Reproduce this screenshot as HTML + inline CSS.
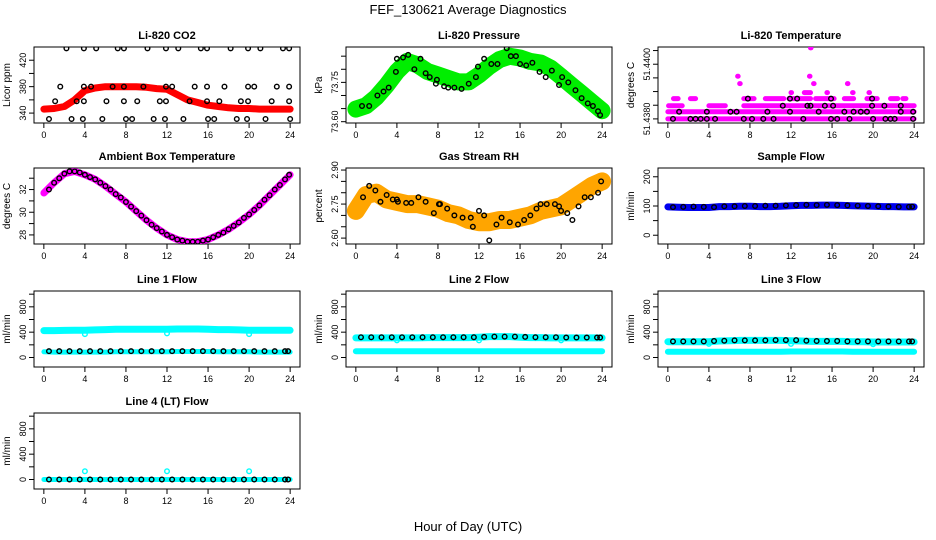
<!DOCTYPE html>
<html><head><meta charset="utf-8"><style>
html,body{margin:0;padding:0;background:#fff;}
svg{display:block;font-family:"Liberation Sans",sans-serif;}
</style></head><body>
<svg id="fig" width="936" height="540" viewBox="0 0 936 540" xmlns="http://www.w3.org/2000/svg">
<text x="468" y="14" font-size="13" text-anchor="middle">FEF_130621  Average Diagnostics</text>
<text x="468" y="531" font-size="13" text-anchor="middle">Hour of Day (UTC)</text>
</svg>
<script>
// ---------- data ----------
const hours = [0,1,2,3,4,5,6,7,8,9,10,11,12,13,14,15,16,17,18,19,20,21,22,23,24];
const xTicks = [0,4,8,12,16,20,24];

const co2Band = [346,347,350,360,374,378,380,380,380,380,379,377,376,368,360,356,352,350,348,347,347,346,346,346,346];
const co2PtsH = [2.2,3.9,5.1,7.2,7.8,10.1,11.9,13.1,15.3,15.9,18.2,19.9,21.1,23.3,23.9,
  1.6,3.9,4.6,6.7,7.8,9.7,11.9,12.5,14.7,15.9,17.6,19.9,20.5,22.7,23.9,
  1.1,3.2,3.9,6.1,7.8,9.1,11.3,11.9,14.2,15.9,17.1,19.2,19.9,22.2,23.9,
  0.5,2.7,3.8,5.7,8.0,8.6,10.7,11.8,13.6,16.0,16.6,18.8,19.8,21.6,24.0];
const co2PtsV = [438,438,438,438,438,438,438,438,438,438,438,438,438,438,438,
  380,380,380,380,380,380,380,380,380,380,380,380,380,380,380,
  358,358,358,358,358,358,358,358,358,358,358,358,358,358,358,
  331,331,331,331,331,331,331,331,331,331,331,331,331,331,331];

const presBand = [73.648,73.661,73.694,73.739,73.791,73.830,73.817,73.791,73.778,73.765,73.752,73.752,73.778,73.811,73.837,73.850,73.843,73.830,73.824,73.804,73.772,73.739,73.707,73.674,73.642];
const presPtsH = [0.6,1.3,2.1,2.7,3.2,3.9,4.0,4.6,5.1,5.7,6.3,6.8,7.2,7.8,7.9,8.6,9.0,9.6,10.3,11.0,11.7,11.9,12.5,13.2,13.8,14.7,15.1,15.6,16.0,16.6,17.2,17.9,18.5,19.1,19.8,20.1,20.7,21.4,22.0,22.6,23.1,23.6,23.8];
const presPtsV = [73.660,73.660,73.700,73.715,73.730,73.790,73.840,73.845,73.855,73.800,73.840,73.785,73.770,73.745,73.760,73.735,73.730,73.730,73.725,73.745,73.770,73.810,73.840,73.820,73.820,73.880,73.850,73.850,73.820,73.815,73.825,73.790,73.770,73.795,73.740,73.770,73.750,73.720,73.690,73.670,73.660,73.640,73.625];

const tmpSegStart = [0,0,0.07,4.0,7.4,0.55,2.2,7.4,9.5,11.8,14.4,17.2,19.4,21.7,22.9,12.0,13.3,15.5,18.0,19.6,7.0,14.2,17.5,6.8,13.8,13.9];
const tmpSegEnd   = [24,24,1.4,5.6,24,1.0,2.7,8.4,11.3,13.9,16.2,18.1,20.4,22.4,23.2,12.05,13.9,15.55,18.05,19.65,7.05,14.25,17.55,6.85,13.85,13.95];
const tmpSegLevel = [51.4380,51.43826,51.43848,51.43848,51.43848,51.43874,51.43874,51.43874,51.43874,51.43874,51.43874,51.43874,51.43874,51.43874,51.43874,51.43896,51.43896,51.43896,51.43896,51.43896,51.43929,51.43929,51.43929,51.43956,51.43956,51.44060];
const tmpPtsH = [0.5,2.2,2.7,3.2,3.8,4.6,7.4,8.2,9.3,10.3,13.2,15.9,16.5,17.7,20.0,21.2,21.7,22.1,23.9,
  1.1,3.8,6.1,6.7,9.7,11.9,14.7,17.2,18.1,18.8,19.4,22.7,23.9,
  11.2,13.6,13.9,15.3,16.1,19.9,21.1,22.7,
  7.8,11.9,12.6,15.9,19.9];
const tmpPtsV = [51.4380,51.4380,51.4380,51.4380,51.4380,51.4380,51.4380,51.4380,51.4380,51.4380,51.4380,51.4380,51.4380,51.4380,51.4380,51.4380,51.4380,51.4380,51.4380,
  51.43826,51.43826,51.43826,51.43826,51.43826,51.43826,51.43826,51.43826,51.43826,51.43826,51.43826,51.43826,51.43826,
  51.43848,51.43848,51.43848,51.43848,51.43848,51.43848,51.43848,51.43848,
  51.43874,51.43874,51.43874,51.43874,51.43874];

const ambBand = [31.7,32.6,33.4,33.6,33.3,32.9,32.3,31.6,30.9,30.1,29.3,28.6,28.0,27.6,27.4,27.4,27.6,28.0,28.5,29.1,29.8,30.6,31.5,32.4,33.3];
const ambPtsH = [0.5,1.0,1.5,2.0,2.5,3.0,3.5,4.0,4.5,5.0,5.5,6.0,6.5,7.0,7.5,8.0,8.5,9.0,9.5,10.0,10.5,11.0,11.5,12.0,12.5,13.0,13.5,14.0,14.5,15.0,15.5,16.0,16.5,17.0,17.5,18.0,18.5,19.0,19.5,20.0,20.5,21.0,21.5,22.0,22.5,23.0,23.5,23.9];
const ambPtsV = [32.0,32.6,33.0,33.4,33.6,33.6,33.5,33.3,33.1,32.9,32.6,32.3,32.0,31.6,31.3,30.9,30.5,30.1,29.7,29.3,28.9,28.6,28.3,28.0,27.8,27.6,27.5,27.4,27.4,27.4,27.5,27.6,27.8,28.0,28.2,28.5,28.8,29.1,29.5,29.8,30.2,30.6,31.1,31.5,32.0,32.4,32.9,33.3];

const rhBand = [2.72,2.79,2.80,2.77,2.76,2.75,2.75,2.74,2.73,2.71,2.70,2.68,2.67,2.67,2.68,2.68,2.69,2.70,2.72,2.73,2.74,2.77,2.80,2.83,2.85];
const rhPtsH = [0.7,1.3,1.9,2.4,3.0,3.6,4.0,4.1,4.9,5.4,6.1,6.8,7.6,8.1,8.2,8.9,9.6,10.4,11.2,11.4,12.0,12.5,13.0,13.7,14.2,15.0,15.8,16.4,17.0,17.6,18.0,18.6,19.4,19.8,20.0,20.6,21.1,21.7,22.3,22.9,23.6,23.9];
const rhPtsV = [2.78,2.83,2.81,2.76,2.79,2.77,2.77,2.76,2.755,2.755,2.78,2.76,2.71,2.75,2.75,2.73,2.70,2.69,2.69,2.65,2.72,2.70,2.59,2.66,2.69,2.67,2.66,2.68,2.70,2.73,2.75,2.75,2.75,2.74,2.72,2.71,2.68,2.74,2.78,2.78,2.80,2.85];

const sfBand = [97,96,95,95,95,98,98,99,99,98,98,99,101,102,102,103,103,102,101,100,99,98,98,97,97];
const sfPtsV = [96,97,98,97,96,99,99,100,100,101,101,102,103,104,103,104,103,102,101,100,99,98,97,97,98];

const dipH = [4,12,20];
const l1Hi = [425,425,428,430,430,435,440,445,445,445,445,445,445,450,450,450,445,440,440,435,430,430,430,430,430];
const l1Lo = [90,85,85,85,85,85,85,90,90,90,90,90,90,95,95,95,95,90,90,90,90,85,85,85,85];
const l1Dip = [370,380,370];
const l1Pts = [100,100,100,100,100,100,100,100,100,100,100,100,100,100,100,100,100,100,100,100,100,100,100,100,100];

const l2Hi = [310,310,310,310,310,310,310,315,315,315,315,315,320,330,330,330,320,315,315,310,310,310,310,310,310];
const l2Lo = [100,100,100,100,100,100,100,100,100,100,100,100,100,100,100,100,100,100,100,100,100,100,100,100,100];
const l2Dip = [270,270,270];
const l2Pts = [320,320,320,320,320,320,320,320,320,320,320,320,325,330,330,330,325,320,320,320,315,315,315,315,315];

const l3Hi = [250,250,250,250,250,260,265,270,270,270,270,270,265,260,255,255,255,255,250,250,245,245,245,245,245];
const l3Lo = [90,90,90,90,90,90,90,90,90,90,90,90,95,95,95,95,95,95,90,90,90,90,90,90,90];
const l3Dip = [215,215,210];
const l3Pts = [255,255,255,255,260,265,270,270,270,270,275,275,275,265,260,260,260,255,255,255,255,255,255,255,255];

const l4Hi = [0,0,0,0,0,0,0,0,0,0,0,0,0,0,0,0,0,0,0,0,0,0,0,0,0];
const l4Dip = [130,130,130];
const l4Pts = [0,0,0,0,0,0,0,0,0,0,0,0,0,0,0,0,0,0,0,0,0,0,0,0,0];

const flowTicks = [0,200,400,600,800,1000];
const flowLabels = ["0","","400","","800",""];
// ---------- drawing ----------
const svg = document.getElementById('fig');
const NS = 'http://www.w3.org/2000/svg';
const colX = [34,346,658], rowY = [47,168,291,413], PW = 266, PH = 76;
function mk(tag, attrs, parent){ const e=document.createElementNS(NS,tag); for(const k in attrs) e.setAttribute(k,attrs[k]); (parent||svg).appendChild(e); return e; }

function panel(c, r, title, ylab, ymin, ymax, yt, ylabels, name){
  const L=colX[c], T=rowY[r];
  const g = mk('g',{});
  
  
  const xs = h => L + (h+0.96)/25.92*PW;
  const ys = v => T + PH - (v-ymin)/(ymax-ymin)*PH;
  const box = mk('rect',{x:L,y:T,width:PW,height:PH,fill:'none',stroke:'#000','stroke-width':1},g);
  
  
  const t = mk('text',{x:L+PW/2,y:T-8,'font-size':11,'font-weight':'bold','text-anchor':'middle'},g);
  t.textContent = title;
  
  
  const yl = mk('text',{x:0,y:0,'font-size':10,'text-anchor':'middle',transform:`translate(${L-24},${T+PH/2}) rotate(-90)`},g);
  yl.textContent = ylab;
  
  
  xTicks.forEach(h=>{
    mk('line',{x1:xs(h),x2:xs(h),y1:T+PH,y2:T+PH+5,stroke:'#000'},g);
    const tl = mk('text',{x:xs(h),y:T+PH+15,'font-size':9,'text-anchor':'middle'},g);
    tl.textContent = h;
    
    
  });
  yt.forEach((v,i)=>{
    mk('line',{x1:L-5,x2:L,y1:ys(v),y2:ys(v),stroke:'#000'},g);
    if(ylabels[i]){
      const tl = mk('text',{x:0,y:0,'font-size':9,'text-anchor':'middle',transform:`translate(${L-8},${ys(v)}) rotate(-90)`},g);
      tl.textContent = ylabels[i];
      
      
    }
  });
  const clip = 'clip'+c+r;
  const cp = mk('clipPath',{id:clip},g); mk('rect',{x:L,y:T,width:PW,height:PH},cp);
  const inner = mk('g',{'clip-path':`url(#${clip})`},g);
  return {xs, ys, g:inner};
}
function band(p, vals, color, width, name){
  const d = vals.map((v,i)=>(i?'L':'M')+p.xs(hours[i]).toFixed(1)+' '+p.ys(v).toFixed(1)).join(' ');
  const e = mk('path',{d, fill:'none', stroke:color, 'stroke-width':width, 'stroke-linejoin':'round','stroke-linecap':'round'},p.g);
  
  
}
function pts(p, hs, vs, color, name){
  hs.forEach((h,i)=>{
    const e = mk('circle',{cx:p.xs(h),cy:p.ys(vs[i]),r:2.3,fill:'none',stroke:color,'stroke-width':1.4},p.g);
    
    
  });
}
const hp = hours.map(h=>h+0.5);
const hp25 = hp.slice(0,24).concat([23.8]);

let p = panel(0,0,'Li-820 CO2','Licor ppm',325,440,[340,360,380,400,420],['340','','380','','420'],'co2');
band(p, co2Band, '#ff0000', 7, 'co2-band');
pts(p, co2PtsH, co2PtsV, '#000', 'co2-point');

p = panel(1,0,'Li-820 Pressure','kPa',73.595,73.885,[73.60,73.65,73.70,73.75,73.80,73.85],['73.60','','','73.75','',''],'pressure');
band(p, presBand, '#00ee00', 17, 'pressure-band');
pts(p, presPtsH, presPtsV, '#000', 'pressure-point');

p = panel(2,0,'Li-820 Temperature','degrees C',51.43785,51.44063,[51.4380,51.4385,51.4390,51.4395,51.4400,51.4405],['51.4380','','','','51.4400',''],'temperature');
tmpSegStart.forEach((s,i)=>{
  const e = mk('line',{x1:p.xs(s),x2:p.xs(tmpSegEnd[i]),y1:p.ys(tmpSegLevel[i]),y2:p.ys(tmpSegLevel[i]),stroke:'#ff00ff','stroke-width':5,'stroke-linecap':'round'},p.g);
  
  
});
pts(p, tmpPtsH, tmpPtsV, '#000', 'temperature-point');

p = panel(0,1,'Ambient Box Temperature','degrees C',27.2,33.9,[28,29,30,31,32,33],['28','','30','','32',''],'ambient');
band(p, ambBand, '#ff00ff', 7, 'ambient-band');
pts(p, ambPtsH, ambPtsV, '#000', 'ambient-point');

p = panel(1,1,'Gas Stream RH','percent',2.574,2.909,[2.60,2.65,2.70,2.75,2.80,2.85,2.90],['2.60','','','2.75','','','2.90'],'rh');
band(p, rhBand, '#ffa500', 18, 'rh-band');
pts(p, rhPtsH, rhPtsV, '#000', 'rh-point');

p = panel(2,1,'Sample Flow','ml/min',-30,230,[0,50,100,150,200],['0','','100','','200'],'sample-flow');
band(p, sfBand, '#0000ee', 7, 'sample-flow-band');
pts(p, hp25, sfPtsV, '#000', 'sample-flow-point');

p = panel(0,2,'Line 1 Flow','ml/min',-150,1050,flowTicks,flowLabels,'line1');
band(p, l1Hi, '#00ffff', 7, 'line1-high-band');
band(p, l1Lo, '#00ffff', 5, 'line1-low-band');
pts(p, dipH, l1Dip, '#00ffff', 'line1-dip-point');
pts(p, hp25, l1Pts, '#000', 'line1-point');

p = panel(1,2,'Line 2 Flow','ml/min',-150,1050,flowTicks,flowLabels,'line2');
band(p, l2Hi, '#00ffff', 7, 'line2-high-band');
band(p, l2Lo, '#00ffff', 6, 'line2-low-band');
pts(p, dipH, l2Dip, '#00ffff', 'line2-dip-point');
pts(p, hp25, l2Pts, '#000', 'line2-point');

p = panel(2,2,'Line 3 Flow','ml/min',-150,1050,flowTicks,flowLabels,'line3');
band(p, l3Hi, '#00ffff', 7, 'line3-high-band');
band(p, l3Lo, '#00ffff', 6, 'line3-low-band');
pts(p, dipH, l3Dip, '#00ffff', 'line3-dip-point');
pts(p, hp25, l3Pts, '#000', 'line3-point');

p = panel(0,3,'Line 4 (LT) Flow','ml/min',-150,1050,flowTicks,flowLabels,'line4');
band(p, l4Hi, '#00ffff', 5, 'line4-band');
pts(p, dipH, l4Dip, '#00ffff', 'line4-outlier-point');
pts(p, hp25, l4Pts, '#000', 'line4-point');
</script>
</body></html>
